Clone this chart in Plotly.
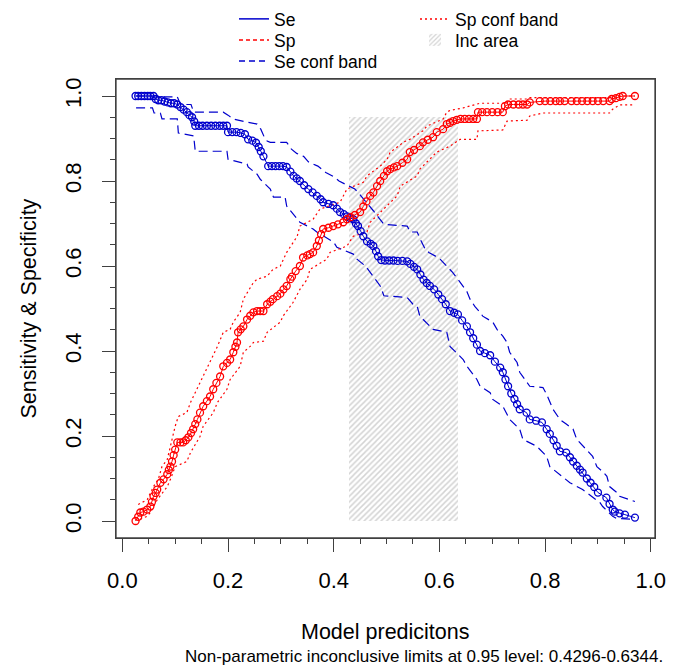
import plotly.graph_objects as go

# ---------------- data ----------------
se_x = [0.025,0.03,0.036,0.042,0.048,0.053,0.059,0.063,0.068,0.074,0.08,0.086,0.092,0.098,0.104,0.11,0.116,0.122,0.127,0.132,0.136,0.138,0.145,0.152,0.16,0.168,0.176,0.184,0.191,0.198,0.2,0.208,0.216,0.224,0.232,0.238,0.246,0.253,0.258,0.262,0.267,0.276,0.283,0.29,0.297,0.304,0.311,0.318,0.324,0.33,0.336,0.344,0.352,0.36,0.368,0.375,0.38,0.39,0.399,0.406,0.412,0.419,0.425,0.431,0.437,0.442,0.446,0.451,0.456,0.463,0.47,0.475,0.48,0.484,0.49,0.497,0.505,0.513,0.521,0.53,0.539,0.545,0.552,0.558,0.564,0.57,0.576,0.582,0.59,0.598,0.605,0.612,0.62,0.628,0.635,0.643,0.652,0.658,0.664,0.671,0.677,0.686,0.696,0.705,0.715,0.72,0.725,0.73,0.736,0.742,0.747,0.752,0.765,0.771,0.783,0.794,0.803,0.809,0.816,0.822,0.828,0.84,0.847,0.853,0.86,0.866,0.871,0.879,0.886,0.893,0.9,0.916,0.922,0.928,0.932,0.941,0.951,0.97]
se_y = [1.0,1.0,1.0,1.0,1.0,1.0,1.0,0.993,0.99,0.99,0.987,0.985,0.983,0.983,0.98,0.974,0.968,0.962,0.955,0.95,0.94,0.93,0.93,0.93,0.93,0.93,0.93,0.93,0.93,0.93,0.915,0.915,0.915,0.913,0.91,0.898,0.895,0.89,0.88,0.87,0.858,0.835,0.835,0.835,0.835,0.835,0.833,0.822,0.812,0.806,0.8,0.79,0.781,0.773,0.765,0.757,0.75,0.746,0.743,0.735,0.727,0.722,0.717,0.713,0.71,0.7,0.694,0.682,0.67,0.658,0.652,0.647,0.635,0.623,0.614,0.613,0.613,0.613,0.612,0.612,0.611,0.605,0.598,0.592,0.58,0.568,0.56,0.553,0.545,0.533,0.522,0.51,0.494,0.49,0.486,0.472,0.458,0.444,0.43,0.415,0.4,0.395,0.39,0.375,0.361,0.35,0.333,0.317,0.3,0.287,0.275,0.263,0.255,0.239,0.236,0.232,0.216,0.205,0.19,0.177,0.164,0.161,0.15,0.14,0.13,0.121,0.114,0.1,0.09,0.08,0.067,0.055,0.04,0.027,0.022,0.018,0.015,0.008]

sp_x = [0.025,0.03,0.034,0.04,0.047,0.053,0.056,0.059,0.063,0.066,0.072,0.078,0.085,0.088,0.091,0.094,0.097,0.1,0.104,0.11,0.115,0.12,0.125,0.13,0.134,0.138,0.142,0.147,0.153,0.16,0.166,0.172,0.178,0.185,0.191,0.198,0.204,0.21,0.214,0.217,0.219,0.224,0.229,0.236,0.242,0.248,0.255,0.261,0.267,0.274,0.28,0.285,0.293,0.299,0.305,0.311,0.318,0.321,0.328,0.336,0.342,0.35,0.355,0.361,0.368,0.372,0.376,0.38,0.39,0.399,0.408,0.418,0.425,0.432,0.44,0.45,0.456,0.462,0.469,0.475,0.482,0.488,0.495,0.501,0.507,0.514,0.52,0.53,0.539,0.544,0.552,0.563,0.569,0.578,0.588,0.595,0.607,0.614,0.62,0.626,0.633,0.64,0.648,0.656,0.664,0.671,0.673,0.681,0.69,0.7,0.71,0.72,0.724,0.73,0.74,0.75,0.758,0.766,0.771,0.79,0.8,0.81,0.82,0.828,0.837,0.85,0.86,0.87,0.88,0.89,0.9,0.91,0.922,0.926,0.934,0.941,0.947,0.97]
sp_y = [0.0,0.01,0.02,0.022,0.027,0.034,0.045,0.058,0.066,0.074,0.09,0.098,0.11,0.12,0.128,0.14,0.155,0.168,0.185,0.185,0.185,0.19,0.197,0.207,0.216,0.228,0.239,0.255,0.27,0.282,0.293,0.31,0.325,0.34,0.364,0.372,0.38,0.397,0.41,0.42,0.444,0.451,0.458,0.474,0.483,0.491,0.494,0.494,0.494,0.51,0.516,0.522,0.529,0.535,0.545,0.553,0.569,0.575,0.588,0.6,0.62,0.625,0.628,0.632,0.647,0.66,0.675,0.687,0.69,0.694,0.698,0.703,0.71,0.715,0.72,0.727,0.74,0.752,0.765,0.773,0.788,0.8,0.812,0.823,0.828,0.832,0.835,0.843,0.851,0.868,0.873,0.882,0.891,0.897,0.903,0.915,0.922,0.934,0.937,0.941,0.944,0.946,0.946,0.946,0.946,0.946,0.962,0.962,0.962,0.962,0.962,0.962,0.976,0.98,0.98,0.98,0.98,0.98,0.985,0.988,0.988,0.988,0.988,0.988,0.988,0.988,0.988,0.988,0.988,0.988,0.988,0.988,0.988,0.993,0.995,0.998,1.0,1.0]

se_hi_x = [0.025,0.07,0.081,0.104,0.11,0.13,0.135,0.191,0.2,0.21,0.23,0.255,0.262,0.268,0.274,0.28,0.311,0.32,0.33,0.343,0.352,0.37,0.385,0.4,0.41,0.431,0.44,0.448,0.456,0.465,0.475,0.488,0.495,0.539,0.545,0.558,0.563,0.573,0.58,0.6,0.614,0.625,0.635,0.645,0.652,0.658,0.667,0.677,0.682,0.701,0.709,0.72,0.728,0.733,0.747,0.752,0.762,0.771,0.796,0.803,0.815,0.828,0.84,0.853,0.86,0.875,0.89,0.898,0.91,0.917,0.922,0.936,0.941,0.97]
se_hi_y = [1.0,1.0,0.998,0.998,0.98,0.98,0.962,0.962,0.955,0.946,0.94,0.934,0.922,0.905,0.894,0.891,0.891,0.875,0.865,0.858,0.845,0.835,0.82,0.81,0.8,0.786,0.781,0.77,0.757,0.745,0.73,0.71,0.698,0.694,0.68,0.68,0.665,0.64,0.632,0.618,0.6,0.585,0.569,0.553,0.54,0.522,0.505,0.491,0.482,0.468,0.451,0.435,0.42,0.397,0.373,0.35,0.333,0.317,0.314,0.298,0.263,0.239,0.228,0.216,0.192,0.172,0.152,0.128,0.115,0.105,0.081,0.067,0.058,0.046]

se_lo_x = [0.026,0.057,0.06,0.072,0.075,0.104,0.106,0.135,0.138,0.198,0.2,0.236,0.238,0.255,0.261,0.28,0.286,0.308,0.311,0.331,0.336,0.361,0.368,0.4,0.406,0.437,0.444,0.46,0.475,0.488,0.495,0.539,0.55,0.558,0.563,0.582,0.588,0.614,0.62,0.645,0.652,0.671,0.677,0.696,0.701,0.72,0.733,0.752,0.758,0.784,0.79,0.803,0.809,0.84,0.847,0.871,0.879,0.904,0.909,0.928,0.935,0.966]
se_lo_y = [0.972,0.972,0.96,0.96,0.946,0.946,0.913,0.906,0.87,0.87,0.851,0.84,0.833,0.816,0.804,0.781,0.762,0.762,0.741,0.71,0.703,0.687,0.68,0.656,0.644,0.628,0.616,0.6,0.575,0.553,0.53,0.526,0.51,0.505,0.482,0.458,0.451,0.444,0.411,0.38,0.364,0.333,0.317,0.302,0.286,0.27,0.239,0.216,0.192,0.176,0.168,0.152,0.128,0.098,0.09,0.074,0.067,0.043,0.034,0.011,0.006,0.004]

sp_hi_x = [0.03,0.047,0.059,0.068,0.075,0.085,0.091,0.1,0.106,0.122,0.129,0.147,0.161,0.18,0.191,0.204,0.21,0.223,0.229,0.248,0.255,0.274,0.285,0.299,0.311,0.331,0.336,0.361,0.374,0.412,0.425,0.456,0.463,0.488,0.501,0.507,0.526,0.531,0.544,0.569,0.576,0.607,0.614,0.62,0.645,0.671,0.677,0.728,0.733,0.766,0.771,0.922,0.928,0.97]
sp_hi_y = [0.039,0.05,0.081,0.098,0.128,0.145,0.176,0.223,0.246,0.255,0.279,0.326,0.364,0.411,0.444,0.451,0.468,0.491,0.522,0.561,0.569,0.576,0.592,0.6,0.632,0.67,0.694,0.71,0.734,0.75,0.781,0.797,0.812,0.835,0.851,0.868,0.885,0.891,0.898,0.918,0.929,0.946,0.962,0.966,0.972,0.98,0.983,0.983,0.993,0.993,0.996,0.996,1.0,1.0]

sp_lo_x = [0.034,0.047,0.053,0.066,0.085,0.091,0.1,0.122,0.129,0.147,0.153,0.172,0.18,0.198,0.204,0.223,0.229,0.242,0.248,0.267,0.274,0.299,0.304,0.323,0.336,0.35,0.355,0.387,0.393,0.425,0.437,0.463,0.469,0.488,0.52,0.526,0.558,0.563,0.588,0.595,0.62,0.633,0.639,0.671,0.673,0.72,0.728,0.766,0.771,0.796,0.922,0.928,0.941,0.97]
sp_lo_y = [0.004,0.011,0.02,0.05,0.081,0.098,0.128,0.14,0.161,0.199,0.223,0.255,0.279,0.31,0.333,0.364,0.397,0.411,0.42,0.423,0.444,0.468,0.482,0.514,0.545,0.569,0.592,0.616,0.632,0.647,0.67,0.68,0.703,0.727,0.765,0.788,0.812,0.828,0.858,0.868,0.882,0.894,0.898,0.898,0.918,0.92,0.941,0.943,0.953,0.96,0.96,0.969,0.979,0.979]

inc_limits = [0.4296, 0.6344]
inc_top = 0.95

x_ticks = [0.0, 0.2, 0.4, 0.6, 0.8, 1.0]
y_ticks = [0.0, 0.2, 0.4, 0.6, 0.8, 1.0]
tick_text = ["0.0", "0.2", "0.4", "0.6", "0.8", "1.0"]

x_title = "Model predicitons"
y_title = "Sensitivity & Specificity"
subtitle = "Non-parametric inconclusive limits at 0.95 level: %.4f-%.4f." % (inc_limits[0], inc_limits[1])

# ---------------- styling ----------------
BLUE = "#0000CD"
RED = "#FF0000"
FRAME = "#404040"
FONT = "Liberation Sans, Arial, sans-serif"
W, H = 679, 665
ML, MR, MT, MB = 116, 24, 79, 127
PW, PH = W - ML - MR, H - MT - MB

fig = go.Figure()

# inconclusive area (hatched)
fig.add_trace(go.Bar(
    x=[(inc_limits[0] + inc_limits[1]) / 2], y=[inc_top], base=[0],
    width=[inc_limits[1] - inc_limits[0]],
    marker=dict(color="white", line=dict(width=0),
                pattern=dict(shape="/", fgcolor="#A8A8A8", bgcolor="white", size=4, solidity=0.38)),
    name="Inc area", legend="legend5", showlegend=True, hoverinfo="skip",
))

# conf bands
fig.add_trace(go.Scatter(x=se_hi_x, y=se_hi_y, mode="lines", line=dict(color=BLUE, width=1.2, dash="9px,5px"), showlegend=False))
fig.add_trace(go.Scatter(x=se_lo_x, y=se_lo_y, mode="lines", line=dict(color=BLUE, width=1.2, dash="9px,5px"), showlegend=False))
fig.add_trace(go.Scatter(x=sp_hi_x, y=sp_hi_y, mode="lines", line=dict(color=RED, width=1.2, dash="2px,3px"), showlegend=False))
fig.add_trace(go.Scatter(x=sp_lo_x, y=sp_lo_y, mode="lines", line=dict(color=RED, width=1.2, dash="2px,3px"), showlegend=False))

# curves
fig.add_trace(go.Scatter(x=se_x, y=se_y, mode="lines+markers", line=dict(color=BLUE, width=1),
                         marker=dict(symbol="circle-open", size=7, color=BLUE, line=dict(width=1.3, color=BLUE)),
                         showlegend=False))
fig.add_trace(go.Scatter(x=sp_x, y=sp_y, mode="lines+markers", line=dict(color=RED, width=1),
                         marker=dict(symbol="circle-open", size=7, color=RED, line=dict(width=1.3, color=RED)),
                         showlegend=False))

# legend-only entries
fig.add_trace(go.Scatter(x=[None], y=[None], mode="lines", name="Se", line=dict(color=BLUE, width=1.5), legend="legend"))
fig.add_trace(go.Scatter(x=[None], y=[None], mode="lines", name="Sp", line=dict(color=RED, width=1.5, dash="4px,3px"), legend="legend2"))
fig.add_trace(go.Scatter(x=[None], y=[None], mode="lines", name="Se conf band", line=dict(color=BLUE, width=1.5, dash="6px,4px"), legend="legend3"))
fig.add_trace(go.Scatter(x=[None], y=[None], mode="lines", name="Sp conf band", line=dict(color=RED, width=1.5, dash="2px,3px"), legend="legend4"))

def leg(px, py):
    return dict(x=px / W, y=1 - py / H, xref="container", yref="container", xanchor="left", yanchor="middle",
                bgcolor="rgba(0,0,0,0)", borderwidth=0, font=dict(family=FONT, size=17.5, color="black"),
                itemclick=False, itemdoubleclick=False)

axis_common = dict(
    showline=True, mirror=True, linecolor=FRAME, linewidth=1.3,
    showgrid=False, zeroline=False, ticks="outside", ticklen=13, tickwidth=1.3, tickcolor=FRAME,
    tickfont=dict(family=FONT, size=22, color="black"), automargin=False,
    minor=dict(ticks="outside", dtick=0.05, ticklen=5, tickwidth=1.1, tickcolor=FRAME, showgrid=False),
)

fig.update_layout(
    width=W, height=H, margin=dict(l=ML, r=MR, t=MT, b=MB, autoexpand=False),
    paper_bgcolor="white", plot_bgcolor="white",
    font=dict(family=FONT, color="black"),
    bargap=0,
    xaxis=dict(range=[-0.012, 1.008], tickvals=x_ticks, ticktext=tick_text, tickangle=0, ticklabelstandoff=9, **axis_common),
    yaxis=dict(range=[-0.04, 1.04], tickvals=y_ticks, ticktext=tick_text, tickangle=-90, ticklabelstandoff=12, **axis_common),
    legend=leg(234, 19), legend2=leg(234, 40), legend3=leg(234, 61), legend4=leg(415, 19), legend5=leg(415, 40),
    shapes=[dict(type="rect", xref="paper", yref="paper", x0=0, x1=1, y0=0, y1=1,
                 line=dict(color=FRAME, width=1.3), fillcolor="rgba(0,0,0,0)", layer="above")],
    annotations=[
        dict(text=x_title, xref="paper", yref="paper", x=0.5, y=(MT + PH - 632) / PH,
             xanchor="center", yanchor="middle", showarrow=False, font=dict(family=FONT, size=21.5)),
        dict(text=y_title, xref="paper", yref="paper", x=(28 - ML) / PW, y=0.5, textangle=-90,
             xanchor="center", yanchor="middle", showarrow=False, font=dict(family=FONT, size=21.5)),
        dict(text=subtitle, xref="paper", yref="paper", x=(424 - ML) / PW,
             y=(MT + PH - 656) / PH,
             xanchor="center", yanchor="middle", showarrow=False, font=dict(family=FONT, size=17)),
    ],
)

fig.write_html("out.html", config={"displayModeBar": False},
               post_script="document.body.style.margin='0px';document.body.style.overflow='hidden';")
